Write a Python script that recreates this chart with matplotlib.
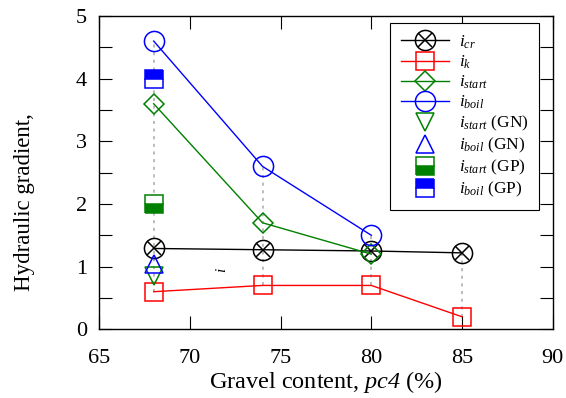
import numpy as np
import matplotlib
matplotlib.use('Agg')
import matplotlib.pyplot as plt

plt.rcParams['font.family'] = ['Liberation Serif', 'DejaVu Serif']
plt.rcParams['mathtext.fontset'] = 'custom'
plt.rcParams['mathtext.rm'] = 'Liberation Serif'
plt.rcParams['mathtext.it'] = 'Liberation Serif:italic'
plt.rcParams['mathtext.cal'] = 'Liberation Serif:italic'

# 数据
pc4 = [68, 74, 80, 85]
i_cr = [1.29, 1.27, 1.25, 1.22]
i_k = [0.6, 0.7, 0.7, 0.2]
pc4_s = [68, 74, 80]
i_start = [3.6, 1.7, 1.2]
i_boil = [4.6, 2.6, 1.5]
pc4_gn = [68]
i_start_gn = [0.85]
i_boil_gn = [1.04]
pc4_gp = [68]
i_start_gp = [2.0]
i_boil_gp = [4.0]

green = '#008000'
fig = plt.figure(figsize=(5.66, 3.98), dpi=100)
ax = fig.add_axes([0.1754, 0.1726, 0.8011, 0.7872])

# 竖向灰色虚线
allx = {}
for xs, ys in [(pc4, i_cr), (pc4, i_k), (pc4_s, i_start), (pc4_s, i_boil),
               (pc4_gn, i_start_gn), (pc4_gn, i_boil_gn), (pc4_gp, i_start_gp), (pc4_gp, i_boil_gp)]:
    for x, y in zip(xs, ys):
        allx.setdefault(x, []).append(y)
for x, ys in allx.items():
    ax.vlines(x, min(ys), max(ys), colors='#a8a8a8', linestyles=(0, (2, 3)), lw=1.1, zorder=1)

mk = dict(fillstyle='none', mew=1.1, lw=1.0)
l_cr, = ax.plot(pc4, i_cr, 'k-', marker='o', ms=14.5, zorder=3, **mk)
x_cr, = ax.plot(pc4, i_cr, 'k', ls='none', marker='x', ms=10.5, mew=1.1, zorder=3)
l_k, = ax.plot(pc4, i_k, 'r-', marker='s', ms=13.5, zorder=3, **mk)
l_st, = ax.plot(pc4_s, i_start, '-', color=green, marker='D', ms=10, zorder=3, **mk)
l_bo, = ax.plot(pc4_s, i_boil, 'b-', marker='o', ms=14.5, zorder=3, **mk)
l_stgn, = ax.plot(pc4_gn, i_start_gn, ls='none', color=green, marker='v', ms=13, fillstyle='none', mew=1.1, zorder=3)
l_bogn, = ax.plot(pc4_gn, i_boil_gn, ls='none', color='b', marker='^', ms=13, fillstyle='none', mew=1.1, zorder=3)
l_stgp, = ax.plot(pc4_gp, i_start_gp, ls='none', color=green, marker='s', ms=13, fillstyle='bottom',
                  markerfacecolor=green, markerfacecoloralt='white', mew=1.1, zorder=3)
l_bogp, = ax.plot(pc4_gp, i_boil_gp, ls='none', color='b', marker='s', ms=13, fillstyle='top',
                  markerfacecolor='b', markerfacecoloralt='white', mew=1.1, zorder=3)

ax.set_xlim(65, 90)
ax.set_ylim(0, 5)
ax.set_xticks([65, 70, 75, 80, 85, 90])
ax.set_yticks([0, 1, 2, 3, 4, 5])
ax.set_yticks(np.arange(0.5, 5, 1), minor=True)
ax.tick_params(which='both', direction='in', top=True, right=True, length=9.5, width=0.8,
               labelsize=16, pad=9)
ax.tick_params(axis='x', pad=14)
for s in ax.spines.values():
    s.set_linewidth(1.0)

ax.set_xlabel(r'Gravel content, $\mathcal{pc4}$ (%)', fontsize=17.5, labelpad=1)
ax.set_ylabel('Hydraulic gradient,', fontsize=16.5)
ax.yaxis.set_label_coords(-0.142, 0.405)
ax.text(71.75, 0.95, r'$i$', rotation=90, fontsize=11, ha='center', va='center')

handles = [(l_cr, x_cr), l_k, l_st, l_bo, l_stgn, l_bogn, l_stgp, l_bogp]
labels = [r'$i_{cr}$', r'$i_k$', r'$i_{start}$', r'$i_{boil}$', r'$i_{start}$ (GN)',
          r'$i_{boil}$ (GN)', r'$i_{start}$ (GP)', r'$i_{boil}$ (GP)']
leg = ax.legend(handles, labels, loc='upper right', bbox_to_anchor=(539 / 566, 1 - 23 / 398),
                bbox_transform=fig.transFigure, borderaxespad=0, fontsize=12.5, fancybox=False,
                framealpha=1, edgecolor='k', handlelength=2.8, labelspacing=0.16, handletextpad=0.55,
                borderpad=0.6)
leg.get_frame().set_linewidth(0.8)

fig.savefig('out.png', dpi=100)
